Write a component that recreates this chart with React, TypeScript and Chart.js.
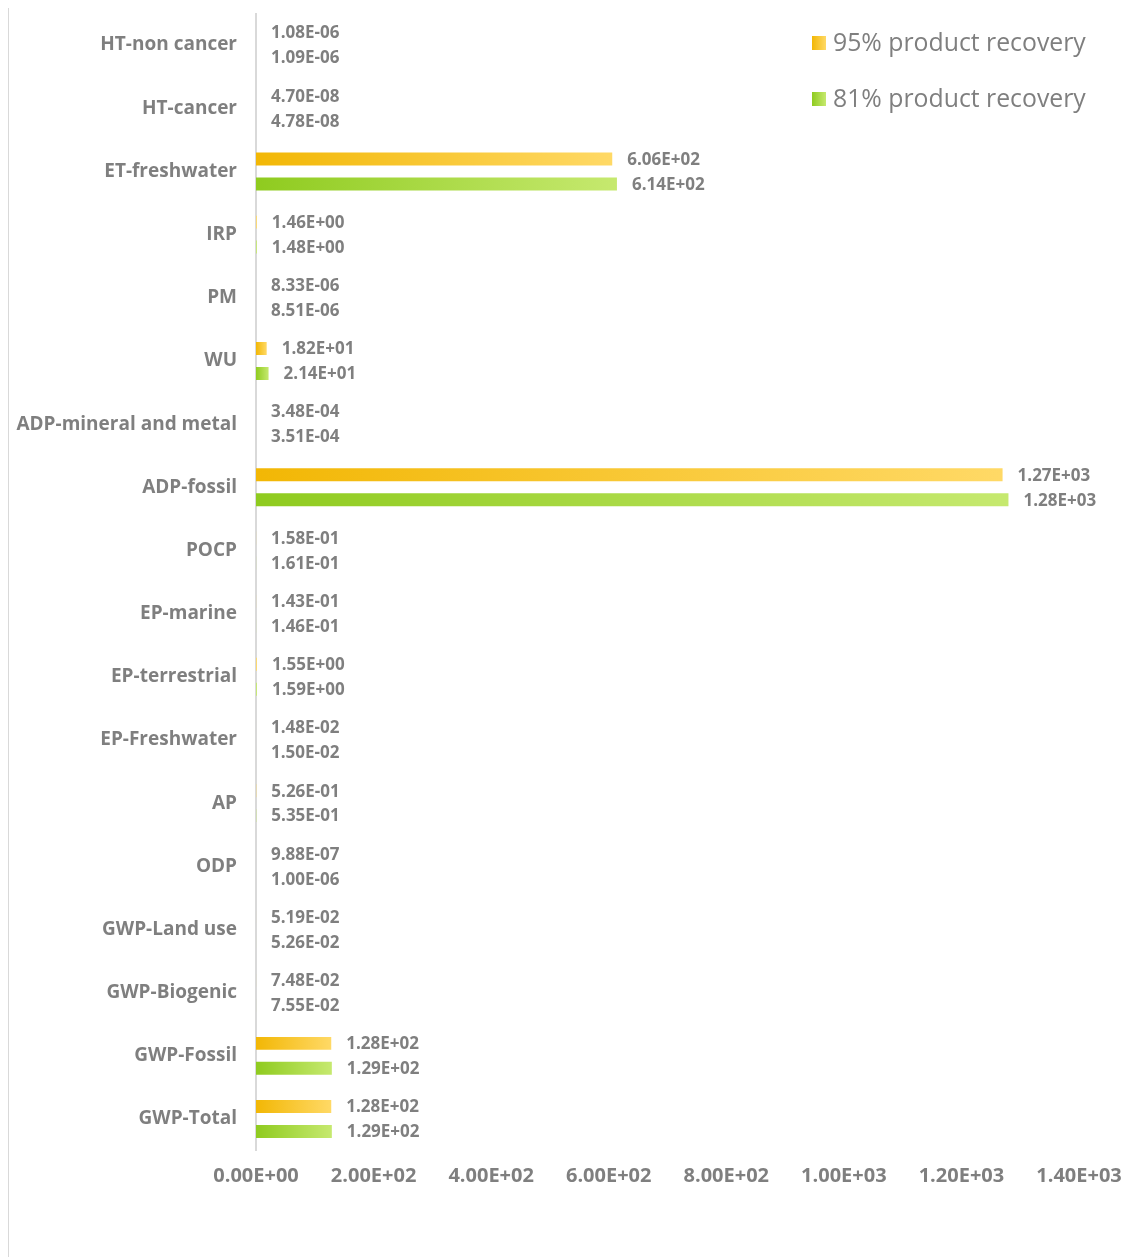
import React, { useEffect, useRef } from "react";
import { Chart, registerables } from "chart.js";

Chart.register(...registerables);

const categories = [
  "HT-non cancer",
  "HT-cancer",
  "ET-freshwater",
  "IRP",
  "PM",
  "WU",
  "ADP-mineral and metal",
  "ADP-fossil",
  "POCP",
  "EP-marine",
  "EP-terrestrial",
  "EP-Freshwater",
  "AP",
  "ODP",
  "GWP-Land use",
  "GWP-Biogenic",
  "GWP-Fossil",
  "GWP-Total",
];

const recovery95 = [
  1.08e-6, 4.7e-8, 606, 1.46, 8.33e-6, 18.2, 3.48e-4, 1270, 0.158, 0.143, 1.55,
  0.0148, 0.526, 9.88e-7, 0.0519, 0.0748, 128, 128,
];

const recovery81 = [
  1.09e-6, 4.78e-8, 614, 1.48, 8.51e-6, 21.4, 3.51e-4, 1280, 0.161, 0.146, 1.59,
  0.015, 0.535, 1.0e-6, 0.0526, 0.0755, 129, 129,
];

const seriesLabels = ["95% product recovery", "81% product recovery"];
const xTickMax = 1400;
const xTickStep = 200;

const ORANGE = ["#F2B705", "#FFD966"];
const GREEN = ["#8FCB1F", "#C6E96F"];
const TEXT_GRAY = "#7F7F7F";
const FONT = "'Open Sans', 'Noto Sans', sans-serif";

function fmtExp(v: number): string {
  const [m, e] = v.toExponential(2).split("e");
  const sign = e[0] === "-" ? "-" : "+";
  const digits = e.replace(/^[+-]/, "").padStart(2, "0");
  return `${m}E${sign}${digits}`;
}

function makeGradientColor(colors: string[]) {
  return (ctx: any) => {
    const chart = ctx.chart;
    const xs = chart.scales && chart.scales.x;
    if (!xs || ctx.type !== "data") return colors[1];
    const x0 = xs.getPixelForValue(0);
    const x1 = xs.getPixelForValue(ctx.raw as number);
    if (!isFinite(x0) || !isFinite(x1) || x1 - x0 < 2) return colors[1];
    const g = chart.ctx.createLinearGradient(x0, 0, x1, 0);
    g.addColorStop(0, colors[0]);
    g.addColorStop(1, colors[1]);
    return g;
  };
}

const valueLabelPlugin = {
  id: "valueLabels",
  afterDatasetsDraw(chart: any) {
    const ctx = chart.ctx;
    ctx.save();
    ctx.font = `bold 17px ${FONT}`;
    ctx.fillStyle = TEXT_GRAY;
    ctx.textAlign = "left";
    ctx.textBaseline = "middle";
    chart.data.datasets.forEach((ds: any, di: number) => {
      const meta = chart.getDatasetMeta(di);
      meta.data.forEach((el: any, i: number) => {
        ctx.fillText(fmtExp(ds.data[i]), el.x + 15, el.y + 1);
      });
    });
    ctx.restore();
  },
};

const legendPlugin = {
  id: "customLegend",
  afterDraw(chart: any) {
    const ctx = chart.ctx;
    const palettes = [ORANGE, GREEN];
    ctx.save();
    ctx.font = `24.8px ${FONT}`;
    ctx.textBaseline = "middle";
    ctx.textAlign = "left";
    chart.data.datasets.forEach((ds: any, i: number) => {
      const y = 35 + i * 56;
      const sx = 803;
      const g = ctx.createLinearGradient(sx, 0, sx + 14, 0);
      g.addColorStop(0, palettes[i][0]);
      g.addColorStop(1, palettes[i][1]);
      ctx.fillStyle = g;
      ctx.fillRect(sx, y - 7, 14, 14);
      ctx.fillStyle = TEXT_GRAY;
      ctx.fillText(ds.label, sx + 21, y + 1);
    });
    ctx.restore();
  },
};

export default function App() {
  const canvasRef = useRef<HTMLCanvasElement | null>(null);

  useEffect(() => {
    document.body.style.background = "#ffffff";
    const canvas = canvasRef.current;
    if (!canvas) return;
    const chart = new Chart(canvas, {
      type: "bar",
      data: {
        labels: categories,
        datasets: [
          {
            label: seriesLabels[0],
            data: recovery95,
            backgroundColor: makeGradientColor(ORANGE),
            borderWidth: 0,
          },
          {
            label: seriesLabels[1],
            data: recovery81,
            backgroundColor: makeGradientColor(GREEN),
            borderWidth: 0,
          },
        ],
      },
      options: {
        indexAxis: "y",
        responsive: false,
        animation: false,
        devicePixelRatio: 1,
        categoryPercentage: 0.79,
        barPercentage: 0.52,
        layout: {
          padding: { left: 0, right: 55, top: 5.5, bottom: 46.4 },
        },
        plugins: {
          legend: { display: false },
          tooltip: { enabled: false },
          title: { display: false },
        },
        scales: {
          x: {
            min: 0,
            max: xTickMax,
            grid: { display: false, drawTicks: false },
            border: { display: false },
            ticks: {
              stepSize: xTickStep,
              padding: 14,
              color: TEXT_GRAY,
              font: { family: FONT, size: 20, weight: "bold" },
              callback: (v: any) => fmtExp(Number(v)),
              maxRotation: 0,
            },
            afterFit: (scale: any) => {
              scale.height = 60;
              scale.paddingLeft = 0;
              scale.paddingRight = 0;
            },
          },
          y: {
            grid: { display: false, drawTicks: false },
            border: { display: true, color: "#D9D9D9", width: 2 },
            ticks: {
              padding: 19,
              color: TEXT_GRAY,
              font: { family: FONT, size: 19, weight: "bold" },
              autoSkip: false,
            },
            afterFit: (scale: any) => {
              scale.width = 247;
              scale.paddingTop = 0;
              scale.paddingBottom = 0;
            },
          },
        },
      },
      plugins: [valueLabelPlugin, legendPlugin],
    } as any);
    return () => chart.destroy();
  }, []);

  return (
    <div
      style={{
        width: 1126,
        height: 1250,
        marginTop: -1,
        borderTop: "1px solid #D9D9D9",
        borderLeft: "1px solid #D9D9D9",
        boxSizing: "border-box",
        background: "#fff",
        overflow: "hidden",
      }}
    >
      <canvas ref={canvasRef} width={1125} height={1249} style={{ display: "block" }} />
    </div>
  );
}
